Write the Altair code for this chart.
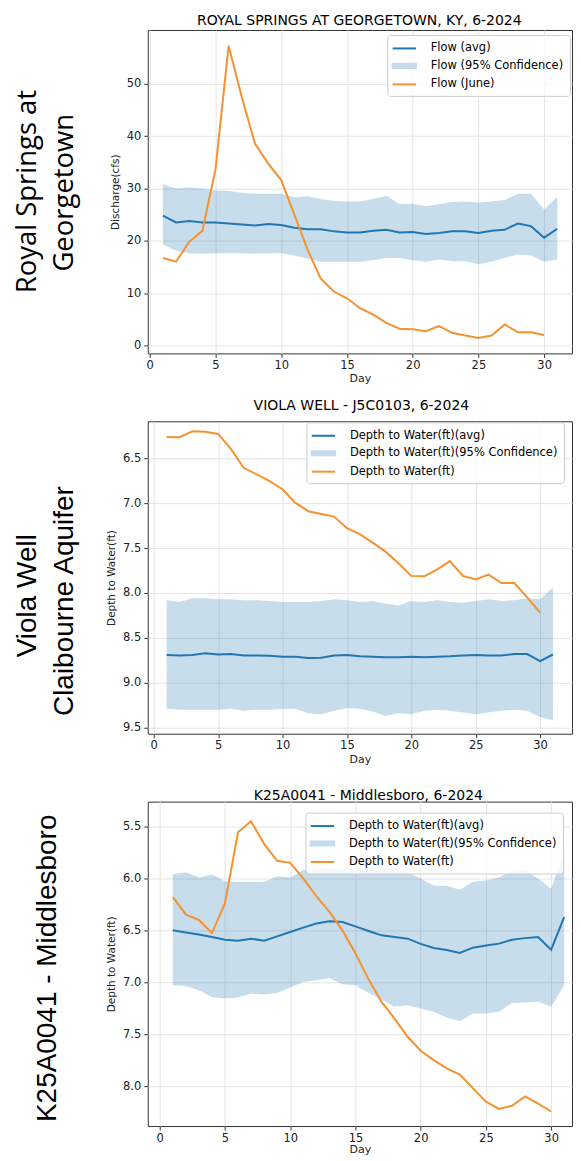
import altair as alt
import pandas as pd

DAYS = list(range(1, 32))
JUNE_DAYS = list(range(1, 31))
X_TICKS = [0, 5, 10, 15, 20, 25, 30]

# ---------------- Panel 1: Royal Springs ----------------
RS_TITLE = "ROYAL SPRINGS AT GEORGETOWN, KY, 6-2024"
RS_YTITLE = "Discharge(cfs)"
RS_SERIES = ["Flow (avg)", "Flow (95% Confidence)", "Flow (June)"]
RS_SIDE = ["Royal Springs at", "Georgetown"]
RS_YTICKS = [0, 10, 20, 30, 40, 50]
RS_AVG = [24.8, 23.5, 23.8, 23.5, 23.5, 23.3, 23.1, 22.9, 23.2, 23.0, 22.5, 22.2, 22.2, 21.8, 21.6, 21.6,
          21.9, 22.1, 21.6, 21.7, 21.3, 21.5, 21.8, 21.8, 21.5, 21.9, 22.1, 23.3, 22.8, 20.6, 22.3]
RS_HI = [30.8, 30.0, 30.2, 30.0, 29.6, 29.5, 29.2, 29.0, 29.0, 29.0, 28.3, 28.5, 28.0, 27.6, 27.5, 27.5,
         28.0, 28.6, 27.0, 27.1, 26.6, 27.0, 27.4, 27.5, 27.3, 27.5, 27.8, 29.0, 29.0, 26.0, 28.4]
RS_LO = [19.3, 18.1, 17.6, 17.5, 17.6, 17.6, 17.6, 17.5, 17.6, 17.6, 17.2, 16.6, 16.0, 16.0, 16.0, 16.0,
         16.3, 16.7, 16.7, 16.3, 16.0, 16.4, 16.1, 16.1, 15.5, 16.0, 16.7, 17.4, 17.2, 16.0, 16.4]
RS_JUNE = [16.7, 16.0, 19.8, 21.9, 33.6, 57.3, 47.5, 38.6, 34.8, 31.6, 25.0, 18.3, 12.8, 10.3, 9.0,
           7.1, 5.9, 4.3, 3.2, 3.1, 2.7, 3.7, 2.4, 1.9, 1.4, 1.9, 4.0, 2.5, 2.5, 2.0]

# ---------------- Panel 2: Viola Well ----------------
VW_TITLE = "VIOLA WELL - J5C0103, 6-2024"
VW_YTITLE = "Depth to Water(ft)"
VW_SERIES = ["Depth to Water(ft)(avg)", "Depth to Water(ft)(95% Confidence)", "Depth to Water(ft)"]
VW_SIDE = ["Viola Well", "Claibourne Aquifer"]
VW_YTICKS = [6.5, 7.0, 7.5, 8.0, 8.5, 9.0, 9.5]
VW_AVG = [8.69, 8.695, 8.69, 8.67, 8.685, 8.68, 8.695, 8.695, 8.70, 8.71, 8.71, 8.725, 8.72, 8.695, 8.69,
          8.705, 8.71, 8.715, 8.715, 8.71, 8.715, 8.71, 8.705, 8.695, 8.69, 8.695, 8.695, 8.68, 8.68, 8.76, 8.685]
VW_HI = [8.08, 8.10, 8.06, 8.06, 8.07, 8.07, 8.08, 8.08, 8.09, 8.10, 8.10, 8.10, 8.09, 8.07, 8.08, 8.10,
         8.09, 8.12, 8.14, 8.09, 8.10, 8.08, 8.10, 8.11, 8.09, 8.07, 8.09, 8.08, 8.06, 8.07, 7.94]
VW_LO = [9.29, 9.30, 9.30, 9.30, 9.30, 9.29, 9.31, 9.30, 9.30, 9.29, 9.29, 9.34, 9.35, 9.31, 9.28, 9.29,
         9.32, 9.37, 9.34, 9.35, 9.31, 9.30, 9.31, 9.33, 9.35, 9.33, 9.31, 9.30, 9.31, 9.38, 9.42]
VW_JUNE = [6.263, 6.267, 6.20, 6.205, 6.23, 6.40, 6.61, 6.68, 6.755, 6.845, 6.997, 7.09, 7.12, 7.15,
           7.28, 7.345, 7.44, 7.54, 7.67, 7.81, 7.815, 7.74, 7.645, 7.81, 7.85, 7.795, 7.89, 7.89, 8.05, 8.22]

# ---------------- Panel 3: K25A0041 Middlesboro ----------------
KW_TITLE = "K25A0041 - Middlesboro, 6-2024"
KW_YTITLE = "Depth to Water(ft)"
KW_SERIES = ["Depth to Water(ft)(avg)", "Depth to Water(ft)(95% Confidence)", "Depth to Water(ft)"]
KW_SIDE = ["K25A0041 - Middlesboro"]
KW_YTICKS = [5.5, 6.0, 6.5, 7.0, 7.5, 8.0]
KW_AVG = [6.50, 6.52, 6.54, 6.565, 6.59, 6.60, 6.58, 6.60, 6.558, 6.516, 6.474, 6.435, 6.412, 6.42, 6.462,
          6.506, 6.548, 6.565, 6.58, 6.63, 6.67, 6.69, 6.718, 6.667, 6.645, 6.628, 6.59, 6.575, 6.564, 6.686, 6.372]
KW_HI = [5.96, 5.94, 5.99, 5.96, 6.03, 6.035, 6.035, 6.035, 5.98, 5.99, 5.92, 5.91, 5.905, 5.905, 5.905,
         5.905, 5.905, 5.905, 5.94, 6.0, 6.07, 6.07, 6.11, 6.035, 6.02, 5.99, 5.93, 5.92, 6.0, 6.10, 5.75]
KW_LO = [7.03, 7.035, 7.077, 7.141, 7.157, 7.147, 7.109, 7.119, 7.103, 7.051, 6.997, 6.981, 6.958, 7.019,
         7.029, 7.103, 7.167, 7.237, 7.221, 7.253, 7.285, 7.34, 7.375, 7.301, 7.301, 7.285, 7.199, 7.196,
         7.189, 7.237, 7.029]
KW_JUNE = [6.18, 6.346, 6.40, 6.526, 6.24, 5.555, 5.45, 5.667, 5.83, 5.85, 6.0, 6.17, 6.32, 6.5, 6.72,
           6.97, 7.19, 7.35, 7.525, 7.66, 7.75, 7.83, 7.89, 8.02, 8.15, 8.22, 8.19, 8.10, 8.17, 8.245]

BLUE = "#1f77b4"
ORANGE = "#f5922f"
BAND = "#c6dcec"
LINE_PATH = "M-1.8,0H1.8"
RECT_PATH = "M-1.8,-0.32H1.8V0.32H-1.8Z"
FONT = "DejaVu Sans"
LEFT_ANCHOR = -139


def make_panel(title, ytitle, series, avg, lo, hi, june, xdom, ydom, yrev, yticks, yfmt,
               width, height, title_pos, legend_pos,
               side_lines, side_font, side_size, side_xs, side_ys, side_align, top_anchor,
               xtitle_pad=2):
    df = pd.DataFrame({"day": DAYS, "avg": avg, "lo": lo, "hi": hi})
    dj = pd.DataFrame({"day": JUNE_DAYS, "june": june})

    xenc = alt.X("day:Q",
                 scale=alt.Scale(domain=xdom, nice=False, zero=False),
                 axis=alt.Axis(values=X_TICKS, title="Day", labelFlush=False, titlePadding=xtitle_pad))
    yscale = alt.Scale(domain=ydom, nice=False, zero=False, reverse=yrev)
    yaxis = alt.Axis(values=yticks, format=yfmt, title=ytitle, labelFlush=False,
                     titlePadding=6, titleFontSize=10.5, labelPadding=3)

    band = alt.Chart(df).mark_area(color=BLUE, opacity=0.25).encode(
        x=xenc, y=alt.Y("lo:Q", scale=yscale, axis=yaxis), y2="hi:Q")
    avg_line = alt.Chart(df).mark_line(color=BLUE, strokeWidth=2).encode(
        x="day:Q", y="avg:Q")
    june_line = alt.Chart(dj).mark_line(color=ORANGE, strokeWidth=2).encode(
        x="day:Q", y="june:Q")

    lx, ly = legend_pos
    leg = alt.Legend(title=None, orient="none", legendX=lx, legendY=ly,
                     labelFont=FONT, labelFontSize=11.5, labelColor="black", labelLimit=400,
                     symbolSize=169, symbolStrokeWidth=2, symbolOpacity=1,
                     symbolOffset=3.5, labelOffset=19,
                     padding=6, rowPadding=4.5,
                     fillColor="rgba(255,255,255,0.8)", strokeColor="#cccccc",
                     cornerRadius=3)
    legend_layer = alt.Chart(pd.DataFrame({"series": series})).mark_point(
        filled=False, fill=BAND, opacity=0, strokeWidth=2).encode(
        color=alt.Color("series:N", scale=alt.Scale(domain=series, range=[BLUE, BAND, ORANGE]), legend=leg),
        shape=alt.Shape("series:N", scale=alt.Scale(domain=series, range=[LINE_PATH, RECT_PATH, LINE_PATH]),
                        legend=leg),
    )

    tx, ty = title_pos
    title_layer = alt.Chart(pd.DataFrame({"t": [title]})).mark_text(
        align="center", baseline="alphabetic", font=FONT, fontSize=14, color="black").encode(
        text="t:N", x=alt.value(tx), y=alt.value(ty))

    layers = [band, avg_line, june_line, legend_layer, title_layer]
    for line, sx, sy in zip(side_lines, side_xs, side_ys):
        layers.append(
            alt.Chart(pd.DataFrame({"t": [line]})).mark_text(
                angle=270, align=side_align, baseline="alphabetic",
                font=side_font, fontSize=side_size, color="black").encode(
                text="t:N", x=alt.value(sx), y=alt.value(sy)))

    layers.append(
        alt.Chart(pd.DataFrame({"a": [0]})).mark_rule(opacity=0).encode(
            x=alt.value(LEFT_ANCHOR), x2=alt.value(0), y=alt.value(top_anchor), y2=alt.value(0)))

    return alt.layer(*layers).properties(width=width, height=height)


p1 = make_panel(RS_TITLE, RS_YTITLE, RS_SERIES, RS_AVG, RS_LO, RS_HI, RS_JUNE,
                [-0.152, 32.12], [-1.53, 60.3], False, RS_YTICKS, "d", 425, 324, (212, -5), (240, 5),
                RS_SIDE, "Open Sans", 27.5, [-112, -75], [60, 84], "right", -20)
p2 = make_panel(VW_TITLE, VW_YTITLE, VW_SERIES, VW_AVG, VW_LO, VW_HI, VW_JUNE,
                [-0.465, 32.48], [6.089, 9.567], True, VW_YTICKS, ".1f", 425, 313, (214, -11), (159, 1),
                VW_SIDE, "Liberation Sans", 28, [-112, -75], [113, 65], "right", 0)
p3 = make_panel(KW_TITLE, KW_YTITLE, KW_SERIES, KW_AVG, KW_LO, KW_HI, KW_JUNE,
                [-0.918, 31.6], [5.26, 8.385], True, KW_YTICKS, ".1f", 425, 325, (221, -2), (158, 11),
                KW_SIDE, "Liberation Sans", 28, [-92], [321], "left", 0, xtitle_pad=0)

chart = alt.vconcat(p1, p2, p3, spacing=68, bounds="flush", padding=0).resolve_scale(
    color="independent", shape="independent"
).resolve_legend(
    color="independent", shape="independent"
).configure_view(
    stroke="#333333", strokeWidth=1
).configure_axis(
    domain=False, grid=True, gridColor="#e4e4e4", tickColor="#333333", tickSize=4,
    labelFont=FONT, labelFontSize=11.5, labelColor="#222222",
    titleFont=FONT, titleFontSize=11, titleFontWeight="normal", titleColor="#222222",
    labelPadding=2
)

chart.save("out.html", embed_options={"renderer": "svg", "actions": False})
